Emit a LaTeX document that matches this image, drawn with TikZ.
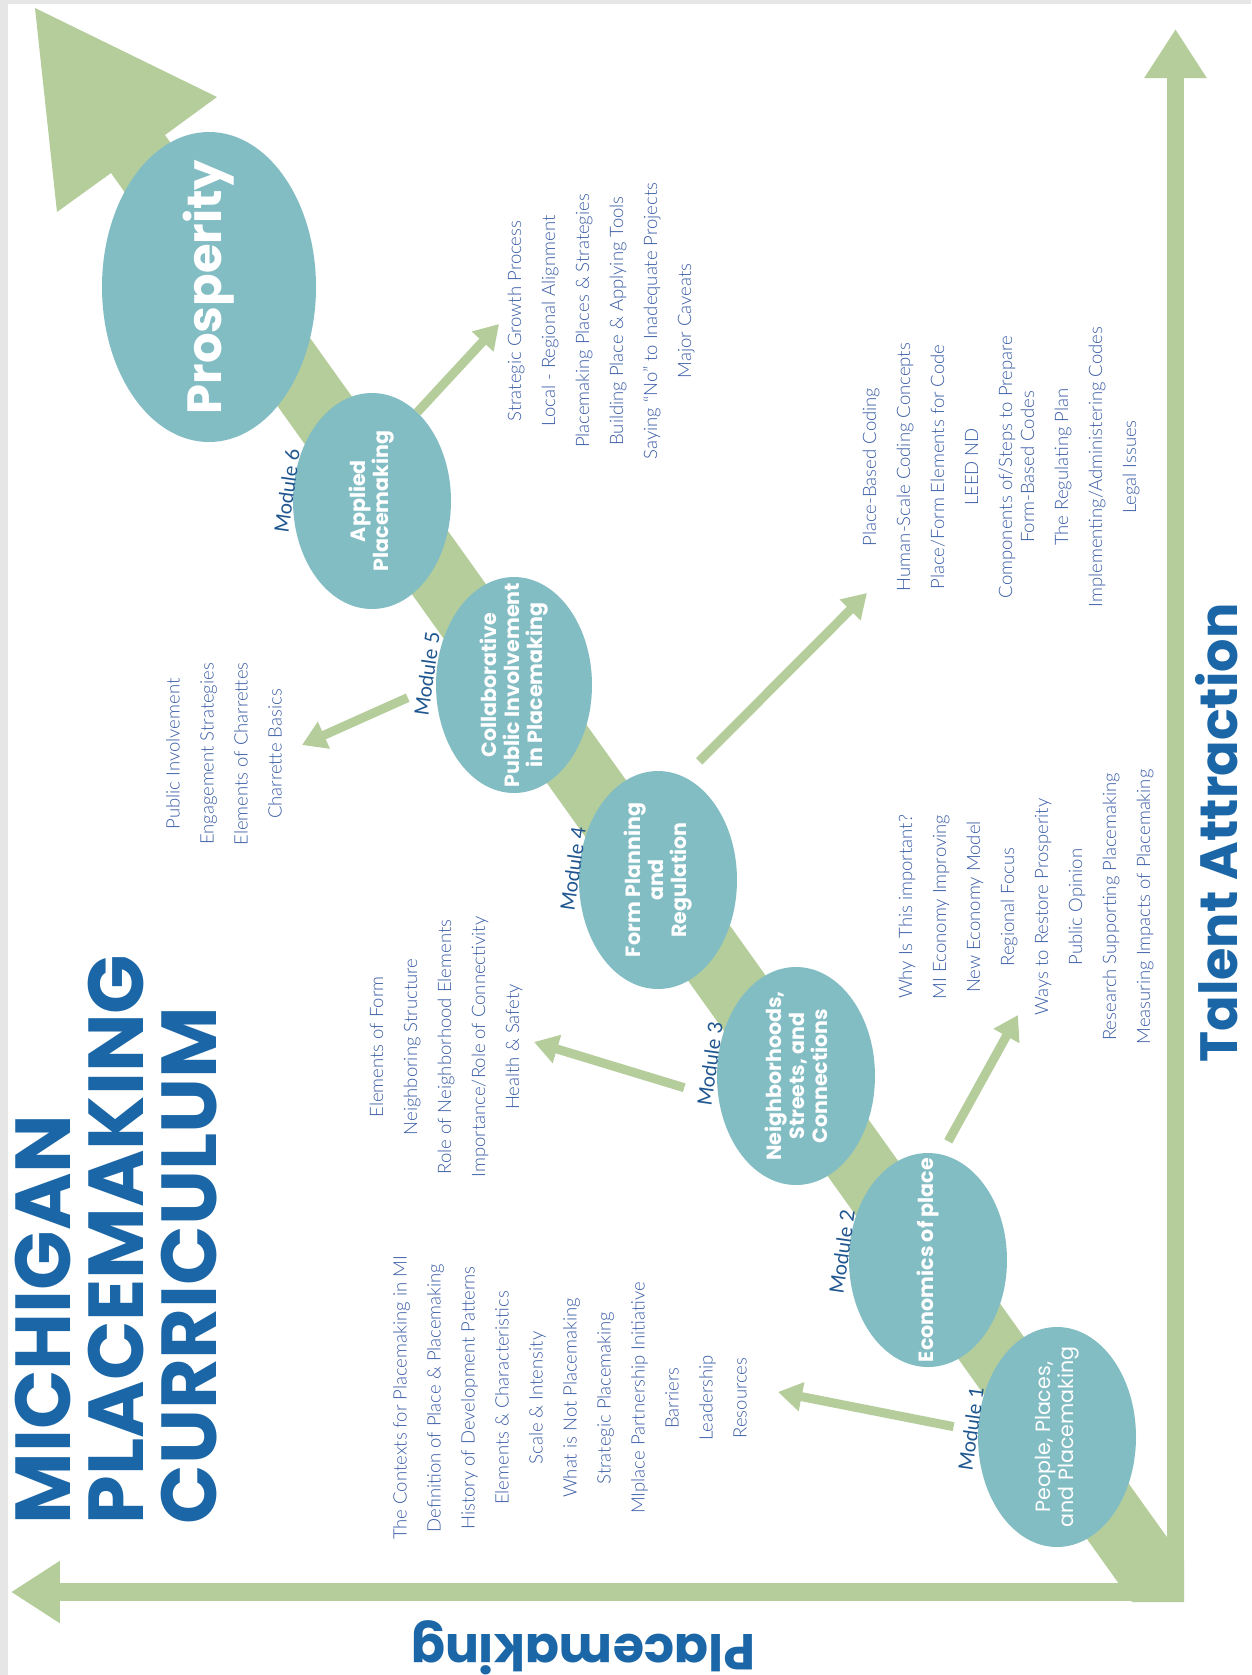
\documentclass[tikz,border=0pt]{standalone}
\usepackage{fontspec}
\usepackage{graphicx}
\usetikzlibrary{arrows.meta,shapes.geometric}
\newfontfamily\headfont{Poppins}
\newfontfamily\listfont{Lato}[UprightFont=* Light]
\newfontfamily\modfont{Lato}
\definecolor{leaf}{HTML}{B5CD9A}
\definecolor{pool}{HTML}{83BDC4}
\definecolor{ink}{HTML}{1B66A6}
\definecolor{listink}{HTML}{3A5DA6}
\definecolor{modink}{HTML}{1F568F}
\definecolor{edge}{HTML}{E6E6E6}
\tikzset{
  stage/.style={ellipse, fill=pool, inner sep=0pt, outer sep=0pt},
  stagetxt/.style={rotate=90, text=white, align=center, inner sep=0pt,
    font=\headfont\bfseries\fontsize{2.06mm}{2.3mm}\selectfont},
  modlbl/.style={rotate=82, text=modink, inner sep=0pt, font=\modfont\fontsize{2mm}{2.4mm}\selectfont},
  topics/.style={rotate=90, text=listink, align=center, inner sep=0pt,
    font=\listfont\fontsize{1.85mm}{3.4mm}\selectfont},
  branch/.style={draw=leaf, line width=0.9mm, -{Triangle[length=2.4mm, width=2.8mm]}},
  axis/.style={draw=leaf, line width=1.75mm, line cap=rect, -{Triangle[length=4.9mm, width=5.9mm]}},
  axtxt/.style={text=ink, inner sep=0pt, font=\headfont\bfseries\fontsize{5.4mm}{6mm}\selectfont},
}
\newcommand{\mstage}[5]{\node[stage, minimum width=#3mm, minimum height=#4mm] (#1) at (#2) {};
  \node[stagetxt] (#1t) at (#1) {#5};}
\newcommand{\modtag}[3]{\node[modlbl] (#1) at (#2) {Module #3};}
\newcommand{\topiclist}[3]{\node[topics] (#1) at (#2) {#3};}

\begin{document}
\begin{tikzpicture}[x=0.1mm, y=-0.1mm]
\useasboundingbox (0,0) rectangle (1251,1675);
\fill[edge] (0,0) rectangle (1251,1675);
\fill[white] (8,4) rectangle (1251,1675);

% big arrow towards prosperity
\fill[leaf] (111,173) -- (1132,1602) -- (1184,1602) -- (1184,1561) -- (165,135)
  -- (217,97) -- (35,8) -- (57,212) -- cycle;

% axes
\coordinate (o) at (1175.5,1592);
\coordinate (ytip) at (1175.5,29);
\coordinate (xtip) at (11,1592);
\draw[axis] (o) -- (ytip);
\draw[axis] (o) -- (xtip);
\node[axtxt, rotate=90, text depth=0pt, anchor=south,
  font=\headfont\bfseries\fontsize{5.25mm}{6mm}\selectfont] (talent) at (1238,833) {Talent Attraction};
\node[axtxt, rotate=180, font=\headfont\bfseries\fontsize{5.05mm}{6mm}\selectfont] (placemk) at (583,1648) {Placemaking};

\node[rotate=90, anchor=west, align=left, inner sep=0pt, text=ink,
  font=\headfont\bfseries\fontsize{7.8mm}{7.3mm}\selectfont] (title) at (116,1525)
  {MICHIGAN\\PLACEMAKING\\CURRICULUM};

% modules
\node[stage, minimum width=21.4mm, minimum height=31mm] (m7) at (209,287) {};
\node[stagetxt, font=\headfont\bfseries\fontsize{4.8mm}{5.4mm}\selectfont] (m7t) at (m7) {Prosperity};
\mstage{m6}{372,501}{15.8}{21.6}{Applied\\Placemaking}
\mstage{m5}{514,685}{15.6}{21.6}{Collaborative\\Public Involvement\\in Placemaking}
\mstage{m4}{658,880}{15.8}{21.8}{Form Planning\\and\\Regulation}
\mstage{m3}{796,1076}{15.8}{21.8}{Neighborhoods,\\Streets, and\\Connections}
\mstage{m2}{928,1260}{15.8}{21.4}{Economics of place}
\node[stage, minimum width=15.8mm, minimum height=22mm] (m1) at (1057,1437) {};
\node[stagetxt, font=\headfont\fontsize{2.06mm}{2.3mm}\selectfont] (m1t) at (m1) {People, Places,\\and Placemaking};

\modtag{mod6}{287,491}{6}
\modtag{mod5}{427,674}{5}
\modtag{mod4}{573,869}{4}
\modtag{mod3}{710,1064}{3}
\modtag{mod2}{842,1252}{2}
\modtag{mod1}{971,1429}{1}

% topic lists
\topiclist{b6}{601,321}{Strategic Growth Process\\Local - Regional Alignment\\Placemaking Places \& Strategies\\Building Place \& Applying Tools\\Saying “No” to Inadequate Projects\\Major Caveats}
\topiclist{b5}{224,754}{Public Involvement\\Engagement Strategies\\Elements of Charrettes\\Charrette Basics}
\topiclist{b4}{1001,467}{Place-Based Coding\\Human-Scale Coding Concepts\\Place/Form Elements for Code\\LEED ND\\Components of/Steps to Prepare\\[-1.2mm]Form-Based Codes\\The Regulating Plan\\Implementing/Administering Codes\\Legal Issues}
\topiclist{b3}{446,1047}{Elements of Form\\Neighboring Structure\\Role of Neighborhood Elements\\Importance/Role of Connectivity\\Health \& Safety}
\topiclist{b2}{1026,907}{Why Is This important?\\MI Economy Improving\\New Economy Model\\Regional Focus\\Ways to Restore Prosperity\\Public Opinion\\Research Supporting Placemaking\\Measuring Impacts of Placemaking}
\topiclist{b1}{570,1398}{The Contexts for Placemaking in MI\\Definition of Place \& Placemaking\\History of Development Patterns\\Elements \& Characteristics\\Scale \& Intensity\\What is Not Placemaking\\Strategic Placemaking\\MIplace Partnership Initiative\\Barriers\\Leadership\\Resources}

% module -> topics
\coordinate (h6) at (499,324);
\coordinate (h5) at (302,745);
\coordinate (h4) at (867,593);
\coordinate (h3) at (534,1042);
\coordinate (h2) at (1018,1015);
\coordinate (h1) at (778,1392);
\draw[branch] (m6.63) -- (h6);
\draw[branch, shorten <=3.1mm] (m5.180) -- (h5);
\draw[branch, shorten <=2.2mm] (m4.76) -- (h4);
\draw[branch, shorten <=3.6mm] (m3.196) -- (h3);
\draw[branch, shorten <=1.5mm] (m2.83) -- (h2);
\draw[branch, shorten <=2.5mm] (m1.176) -- (h1);

\end{tikzpicture}
\end{document}
